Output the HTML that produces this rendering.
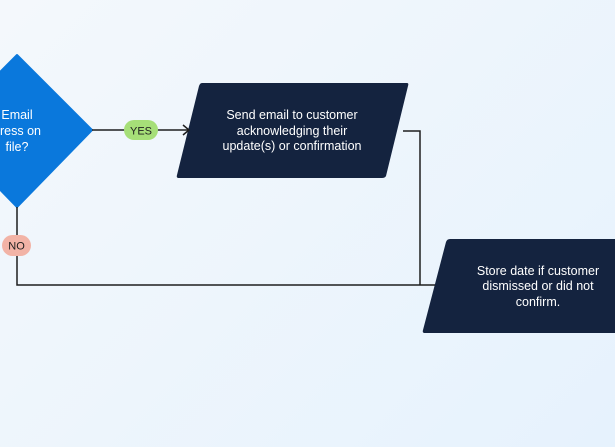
<!DOCTYPE html>
<html><head><style>
body{margin:0;width:615px;height:447px;overflow:hidden;background:linear-gradient(135deg,#f4f8fc,#e6f2fd);font-family:"Liberation Sans",sans-serif;}
svg{position:absolute;left:0;top:0}
</style></head><body>
<svg width="615" height="447" viewBox="0 0 615 447">
<path d="M17,55 L92,130 L17,207 L-58,130 Z" fill="#0a78dc" stroke="#0a78dc" stroke-width="2" stroke-linejoin="round"/>
<path d="M202,83 L407,83 Q409,83 408,86 L386,176 Q385,178 382,178 L179,178 Q176,178 177,175 L199,86 Q200,83 202,83 Z" fill="#14233f"/>
<path d="M450,239 L615,239 L615,333 L425,333 Q422,333 423,330 L446,242 Q447,239 450,239 Z" fill="#14233f"/>
<g fill="none" stroke="#1e1e1e" stroke-width="1.5">
<path d="M92,130 L189,130"/>
<path d="M183,125 L189,130 L183,135"/>
<path d="M403,131 L420,131 L420,285"/>
<path d="M17,207 L17,285 L435,285"/>
</g>
<rect x="124" y="120" width="34" height="20" rx="10" fill="#a6df78"/>
<text x="141" y="134.5" font-size="11" text-anchor="middle" fill="#1e1e1e">YES</text>
<rect x="2" y="235" width="29" height="21" rx="10.5" fill="#f2b3a6"/>
<text x="16.5" y="249.5" font-size="11" text-anchor="middle" fill="#1e1e1e">NO</text>
<g font-size="12.5" fill="#ffffff" text-anchor="middle">
<text x="17" y="119">Email</text>
<text x="17" y="135">dress on</text>
<text x="17" y="151">file?</text>
<text x="292" y="119">Send email to customer</text>
<text x="292" y="135">acknowledging their</text>
<text x="292" y="150">update(s) or confirmation</text>
<text x="538" y="275">Store date if customer</text>
<text x="538" y="290">dismissed or did not</text>
<text x="538" y="306">confirm.</text>
</g>
</svg>
</body></html>
